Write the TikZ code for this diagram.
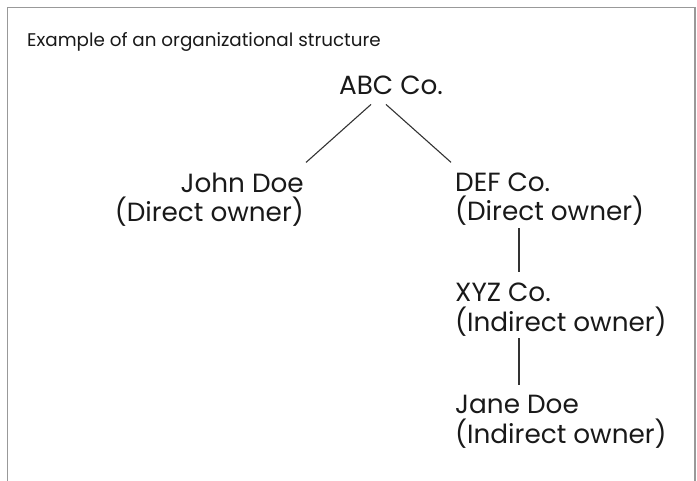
\documentclass[tikz,border=0pt]{standalone}
\usepackage{fontspec}
\setmainfont{Poppins}
\usetikzlibrary{positioning}

\begin{document}
\begin{tikzpicture}[x=1bp, y=-1bp,
        entity/.style={inner sep=0pt, text=black!90,
            font=\fontsize{26.4}{30}\selectfont},
        caption/.style={inner sep=0pt, text=black!90,
            font=\fontsize{18.4}{22}\selectfont},
        link/.style={draw=black!80, line width=1.1bp},
        frame/.style={draw=black!40, line width=1.4bp}
      ]
      \useasboundingbox (0,0) rectangle (697,481);

      % Frame — open at the bottom
      \draw[frame] (7.5,481) -- (7.5,7.5) -- (695,7.5) -- (695,481);

      % Title
      \node[caption, anchor=base west] at (27, 47) (title)
          {Example of an organizational structure};

      % Top of the tree
      \node[entity, anchor=base] at (391, 95) (abc) {ABC Co.};

      % Direct owners (base = second line)
      \node[entity, anchor=base east, align=right] at (304, 222) (john)
          {John Doe\\(Direct owner)};
      \node[entity, anchor=base west, align=left] at (455, 221) (def)
          {DEF Co.\\(Direct owner)};

      % Indirect owners
      \node[entity, anchor=base west, align=left] at (455, 331) (xyz)
          {XYZ Co.\\(Indirect owner)};
      \node[entity, anchor=base west, align=left] at (455, 443) (jane)
          {Jane Doe\\(Indirect owner)};

      % Links
      \draw[link] ([xshift=-20bp, yshift=-9bp]abc.south)
          -- ([xshift=2bp, yshift=10bp]john.north east);
      \draw[link] ([xshift=-5bp, yshift=-9bp]abc.south)
          -- ([xshift=-4bp, yshift=10bp]def.north west);
      \draw[link] ([xshift=64bp, yshift=-2bp]def.south west)
          -- ([xshift=64bp, yshift=10bp]xyz.north west);
      \draw[link] ([xshift=64bp, yshift=-2bp]xyz.south west)
          -- ([xshift=64bp, yshift=10bp]jane.north west);
    \end{tikzpicture}
\end{document}
